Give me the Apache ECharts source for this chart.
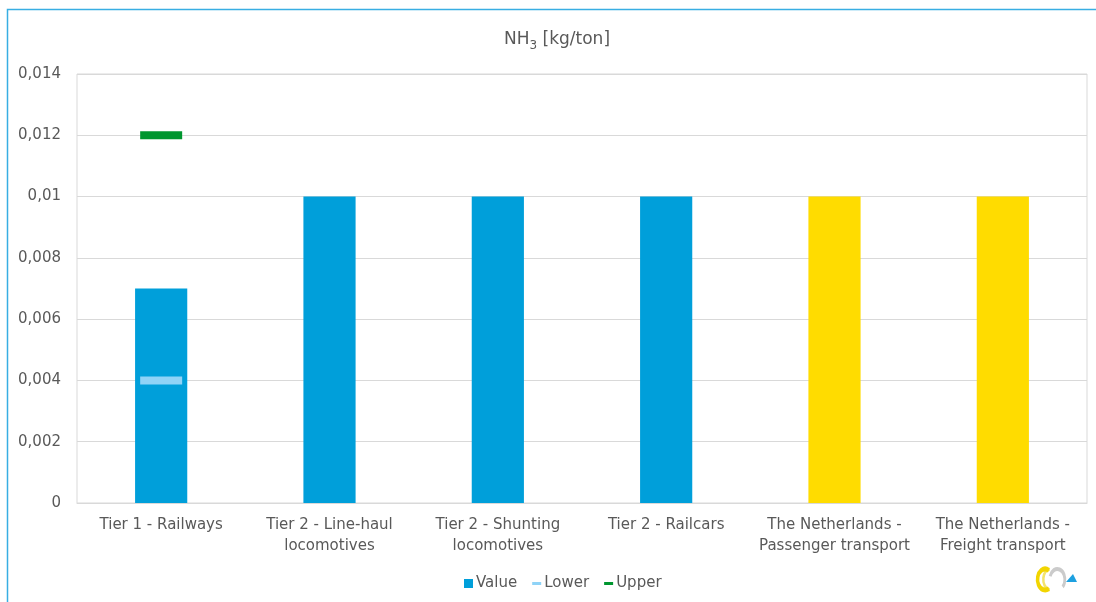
<!DOCTYPE html>
<html>
<head>
<meta charset="utf-8">
<script src="https://cdn.jsdelivr.net/npm/echarts@6/dist/echarts.min.js"></script>
<style>
  html, body { margin: 0; padding: 0; background: #ffffff; }
  #chart { width: 1096px; height: 602px; }
</style>
</head>
<body>
<div id="chart"></div>
<script>
// NH3 emission factors per tonne of fuel, rail sector
const categories = [
  'Tier 1 - Railways',
  'Tier 2 - Line-haul\nlocomotives',
  'Tier 2 - Shunting\nlocomotives',
  'Tier 2 - Railcars',
  'The Netherlands -\nPassenger transport',
  'The Netherlands -\nFreight transport'
];
const values = [0.007, 0.01, 0.01, 0.01, 0.01, 0.01];
const lower = [0.004, null, null, null, null, null];
const upper = [0.012, null, null, null, null, null];
const yTicks = [0, 0.002, 0.004, 0.006, 0.008, 0.01, 0.012, 0.014];

const BLUE = '#009fda';
const YELLOW = '#ffdc00';
const TEXT = '#595959';
const GRID = '#d9d9d9';
const FONT = 'DejaVu Sans';

const barData = values.map((v, i) => ({
  value: v,
  itemStyle: { color: categories[i].startsWith('The Netherlands') ? YELLOW : BLUE }
}));

const chart = echarts.init(document.getElementById('chart'), null, { renderer: 'canvas' });

chart.setOption({
  animation: false,
  backgroundColor: '#ffffff',
  textStyle: { fontFamily: FONT, color: TEXT },
  title: {
    text: '{a|NH}{s|3}{a| [kg/ton]}',
    left: 499,
    top: 26,
    textStyle: {
      fontWeight: 'normal',
      rich: {
        a: { fontFamily: FONT, fontSize: 17, fontWeight: 'normal', color: TEXT, verticalAlign: 'bottom' },
        s: { fontFamily: FONT, fontSize: 12, fontWeight: 'normal', color: TEXT, verticalAlign: 'bottom', padding: [0, 0, -4, 0] }
      }
    }
  },
  legend: {
    top: 571,
    left: 459,
    itemWidth: 9,
    itemHeight: 9,
    itemGap: 15,
    textStyle: { fontFamily: FONT, fontSize: 15, color: TEXT, padding: [0, 0, 0, -2] },
    data: [
      { name: 'Value', icon: 'rect' },
      { name: 'Lower', icon: 'path://M0,0h9v3h-9z' },
      { name: 'Upper', icon: 'path://M0,0h9v3h-9z' }
    ]
  },
  grid: {
    left: 77, right: 9, top: 74, bottom: 99,
    show: true,
    borderColor: GRID,
    borderWidth: 1
  },
  xAxis: {
    type: 'category',
    data: categories,
    axisLine: { lineStyle: { color: GRID } },
    axisTick: { show: false },
    axisLabel: {
      fontFamily: FONT, fontSize: 15, color: TEXT,
      lineHeight: 21, margin: 12, interval: 0
    }
  },
  yAxis: {
    type: 'value',
    min: yTicks[0],
    max: yTicks[yTicks.length - 1],
    interval: yTicks[1] - yTicks[0],
    axisLine: { show: false },
    axisTick: { show: false },
    splitLine: { lineStyle: { color: GRID } },
    axisLabel: {
      fontFamily: FONT, fontSize: 15, color: TEXT, margin: 16,
      formatter: v => String(+v.toFixed(3)).replace('.', ',')
    }
  },
  series: [
    {
      name: 'Value',
      type: 'bar',
      data: barData,
      barWidth: '31%',
      itemStyle: { color: BLUE }
    },
    {
      name: 'Lower',
      type: 'scatter',
      data: lower,
      symbol: 'rect',
      symbolSize: [42, 8],
      itemStyle: { color: '#8fd3f7', opacity: 1 },
      z: 5
    },
    {
      name: 'Upper',
      type: 'scatter',
      data: upper,
      symbol: 'rect',
      symbolSize: [42, 8],
      itemStyle: { color: '#00962f', opacity: 1 },
      z: 5
    }
  ],
  graphic: [
    {
      type: 'rect',
      shape: { x: 7.5, y: 9.5, width: 1200, height: 700 },
      style: { fill: 'none', stroke: '#38aee3', lineWidth: 1.5 },
      silent: true
    },
    {
      // interlocking-rings logo, bottom right
      type: 'group',
      x: 1035,
      y: 567,
      scaleX: 0.72,
      silent: true,
      children: [
        { type: 'arc', shape: { cx: 31, cy: 12.5, r: 10.5, startAngle: Math.PI * 1.1, endAngle: Math.PI * 0.25, clockwise: true },
          style: { stroke: '#cbcbcb', lineWidth: 4, fill: 'none' } },
        { type: 'arc', shape: { cx: 22, cy: 12.5, r: 10.5, startAngle: Math.PI * 0.55, endAngle: Math.PI * 1.45, clockwise: true },
          style: { stroke: '#f3e46a', lineWidth: 3.5, fill: 'none' } },
        { type: 'arc', shape: { cx: 14, cy: 12.5, r: 10.5, startAngle: Math.PI / 3, endAngle: Math.PI * 5 / 3, clockwise: true },
          style: { stroke: '#f2d500', lineWidth: 5, fill: 'none' } }
      ]
    },
    {
      type: 'polygon',
      silent: true,
      shape: { points: [[1066, 582], [1077, 582], [1073, 574]] },
      style: { fill: '#1da0e0' }
    }
  ]
});
</script>
</body>
</html>
